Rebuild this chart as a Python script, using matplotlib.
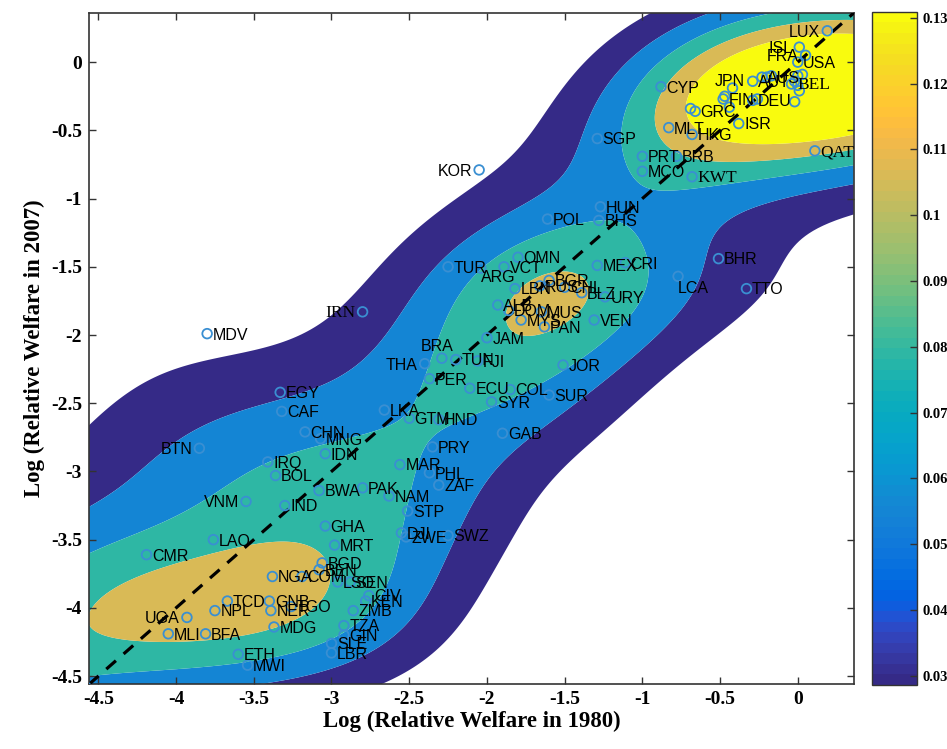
import numpy as np
import matplotlib
matplotlib.use('Agg')
import matplotlib.pyplot as plt
from matplotlib.colors import ListedColormap, Normalize
from matplotlib.cm import ScalarMappable

plt.rcParams['axes.unicode_minus'] = False

# ---------------- data ----------------
codes = ['LUX', 'ISL', 'USA', 'FRA', 'AUS', 'CAN', 'GBR', 'NOR', 'CHE', 'NLD', 'DNK', 'SWE', 'IRL',
         'BEL', 'AUT', 'JPN', 'ITA', 'FIN', 'DEU', 'ESP', 'NZL', 'GRC', 'SVN', 'ISR', 'MLT', 'HKG',
         'CYP', 'SGP', 'PRT', 'BRB', 'MCO', 'KWT', 'QAT', 'HUN', 'BHS', 'POL', 'KOR', 'IRN', 'MDV',
         'BHR', 'LCA', 'TTO', 'MEX', 'CRI', 'URY', 'BLZ', 'VEN', 'TUR', 'VCT', 'OMN', 'ARG', 'LBN',
         'BGR', 'RUS', 'CHL', 'ALB', 'DOM', 'MUS', 'MYS', 'PAN', 'JAM', 'BRA', 'THA', 'TUN', 'FJI',
         'PER', 'ECU', 'COL', 'SYR', 'SUR', 'JOR', 'GAB', 'LKA', 'GTM', 'HND', 'PRY', 'MAR', 'PHL',
         'ZAF', 'PAK', 'NAM', 'STP', 'DJI', 'ZWE', 'SWZ', 'EGY', 'CAF', 'CHN', 'MNG', 'IDN', 'BTN',
         'IRQ', 'BOL', 'BWA', 'VNM', 'IND', 'GHA', 'MRT', 'LAO', 'CMR', 'BGD', 'BEN', 'COM', 'NGA',
         'LSO', 'SEN', 'CIV', 'KEN', 'ZMB', 'TZA', 'GIN', 'SLE', 'LBR', 'MDG', 'ETH', 'MWI', 'TCD',
         'NPL', 'UGA', 'MLI', 'BFA', 'GNB', 'NER', 'TGO', 'ZAR']

x1980 = [0.19, 0.01, 0.00, 0.05, -0.23, -0.20, -0.17, 0.03, 0.00, -0.02, 0.00, 0.01, -0.02,
         -0.04, -0.29, -0.42, -0.47, -0.48, -0.29, -0.26, -0.44, -0.66, -0.69, -0.38, -0.83, -0.68,
         -0.88, -1.29, -1.00, -0.78, -1.00, -0.68, 0.11, -1.27, -1.28, -1.61, -2.05, -2.80, -3.80,
         -0.51, -0.77, -0.33, -1.29, -1.11, -1.24, -1.39, -1.31, -2.25, -1.89, -1.80, -2.04, -1.82,
         -1.60, -1.66, -1.50, -1.93, -1.86, -1.65, -1.78, -1.63, -2.00, -2.29, -2.40, -2.20, -2.06,
         -2.37, -2.11, -1.85, -1.97, -1.60, -1.51, -1.90, -2.66, -2.50, -2.31, -2.35, -2.56, -2.37,
         -2.31, -2.80, -2.63, -2.51, -2.55, -2.52, -2.25, -3.33, -3.32, -3.17, -3.07, -3.04, -3.85,
         -3.41, -3.36, -3.08, -3.55, -3.30, -3.04, -2.98, -3.76, -4.19, -3.06, -3.08, -3.19, -3.38,
         -2.96, -2.88, -2.76, -2.78, -2.86, -2.92, -2.92, -3.00, -3.00, -3.37, -3.60, -3.54, -3.67,
         -3.75, -3.93, -4.05, -3.81, -3.40, -3.39, -3.26, -4.58]

y2007 = [0.23, 0.11, 0.00, 0.05, -0.11, -0.11, -0.10, -0.09, -0.10, -0.14, -0.17, -0.21, -0.29,
         -0.16, -0.14, -0.19, -0.25, -0.27, -0.28, -0.27, -0.33, -0.36, -0.34, -0.45, -0.48, -0.53,
         -0.18, -0.56, -0.69, -0.69, -0.80, -0.84, -0.65, -1.06, -1.16, -1.15, -0.79, -1.83, -1.99,
         -1.44, -1.57, -1.66, -1.49, -1.47, -1.72, -1.69, -1.89, -1.50, -1.50, -1.43, -1.51, -1.66,
         -1.60, -1.64, -1.65, -1.78, -1.82, -1.83, -1.89, -1.94, -2.02, -2.17, -2.21, -2.18, -2.19,
         -2.32, -2.39, -2.40, -2.49, -2.44, -2.22, -2.72, -2.55, -2.61, -2.62, -2.82, -2.95, -3.01,
         -3.10, -3.12, -3.18, -3.29, -3.45, -3.48, -3.47, -2.42, -2.56, -2.71, -2.76, -2.87, -2.83,
         -2.93, -3.03, -3.14, -3.22, -3.25, -3.40, -3.54, -3.50, -3.61, -3.67, -3.72, -3.77, -3.77,
         -3.81, -3.81, -3.91, -3.95, -4.02, -4.13, -4.20, -4.26, -4.33, -4.14, -4.34, -4.42, -3.95,
         -4.02, -4.07, -4.19, -4.19, -3.95, -4.02, -3.99, -4.58]

cbar_ticks = [0.03, 0.04, 0.05, 0.06, 0.07, 0.08, 0.09, 0.10, 0.11, 0.12, 0.13]
axis_ticks = [-4.5, -4.0, -3.5, -3.0, -2.5, -2.0, -1.5, -1.0, -0.5, 0.0]
tick_text = ['-4.5', '-4', '-3.5', '-3', '-2.5', '-2', '-1.5', '-1', '-0.5', '0']

# ---------------- styling / layout ----------------
LEFT_LABELS = {'LUX', 'ISL', 'FRA', 'KOR', 'IRN', 'BTN', 'VNM', 'THA', 'UGA'}
HIDDEN_LABELS = {'CAN', 'GBR', 'NOR', 'CHE', 'NLD', 'DNK', 'SWE', 'IRL', 'ITA', 'ESP', 'NZL', 'SVN',
                 'ZAR'}
SERIF_LABELS = {'KWT', 'QAT', 'IRN', 'BEL'}
SPECIAL = {'LCA': (0.0, -0.09, 'left'), 'ARG': (0.0, -0.07, 'left'),
           'BRA': (-0.03, 0.085, 'center'), 'JPN': (-0.02, 0.05, 'center')}

LIM = (-4.56, 0.36)
parula_data = [
    [0.2081, 0.1663, 0.5292], [0.2116, 0.1898, 0.5777], [0.2123, 0.2138, 0.6270], [0.2081, 0.2386, 0.6771],
    [0.1959, 0.2645, 0.7279], [0.1707, 0.2919, 0.7792], [0.1253, 0.3242, 0.8303], [0.0591, 0.3598, 0.8683],
    [0.0117, 0.3875, 0.8820], [0.0060, 0.4086, 0.8828], [0.0165, 0.4266, 0.8786], [0.0329, 0.4430, 0.8720],
    [0.0498, 0.4586, 0.8641], [0.0629, 0.4737, 0.8554], [0.0723, 0.4887, 0.8467], [0.0779, 0.5040, 0.8384],
    [0.0793, 0.5200, 0.8312], [0.0749, 0.5375, 0.8263], [0.0641, 0.5570, 0.8240], [0.0488, 0.5772, 0.8228],
    [0.0343, 0.5966, 0.8199], [0.0265, 0.6137, 0.8135], [0.0239, 0.6287, 0.8038], [0.0231, 0.6418, 0.7913],
    [0.0228, 0.6535, 0.7768], [0.0267, 0.6642, 0.7607], [0.0384, 0.6743, 0.7436], [0.0590, 0.6838, 0.7254],
    [0.0843, 0.6928, 0.7062], [0.1133, 0.7015, 0.6859], [0.1453, 0.7098, 0.6646], [0.1801, 0.7177, 0.6424],
    [0.2178, 0.7250, 0.6193], [0.2586, 0.7317, 0.5954], [0.3022, 0.7376, 0.5712], [0.3482, 0.7424, 0.5473],
    [0.3953, 0.7459, 0.5244], [0.4420, 0.7481, 0.5033], [0.4871, 0.7491, 0.4840], [0.5300, 0.7491, 0.4661],
    [0.5709, 0.7485, 0.4494], [0.6099, 0.7473, 0.4337], [0.6473, 0.7456, 0.4188], [0.6834, 0.7435, 0.4044],
    [0.7184, 0.7411, 0.3905], [0.7525, 0.7384, 0.3768], [0.7858, 0.7356, 0.3633], [0.8185, 0.7327, 0.3498],
    [0.8507, 0.7299, 0.3360], [0.8824, 0.7274, 0.3217], [0.9139, 0.7258, 0.3063], [0.9450, 0.7261, 0.2886],
    [0.9739, 0.7314, 0.2666], [0.9938, 0.7455, 0.2403], [0.9990, 0.7653, 0.2164], [0.9955, 0.7861, 0.1967],
    [0.9880, 0.8066, 0.1794], [0.9789, 0.8271, 0.1633], [0.9697, 0.8481, 0.1475], [0.9626, 0.8705, 0.1309],
    [0.9589, 0.8949, 0.1132], [0.9598, 0.9218, 0.0948], [0.9661, 0.9514, 0.0755], [0.9763, 0.9831, 0.0538]]
parula = ListedColormap(parula_data, name='parula')

# ---------------- stochastic kernel: joint KDE / marginal KDE ----------------
X = np.asarray(x1980)
Y = np.asarray(y2007)
hx_joint, hx_marg, hy, mass = 0.55, 0.65, 0.40, 0.222
gx = np.linspace(LIM[0], LIM[1], 260)
gy = np.linspace(LIM[0], LIM[1], 260)


def gauss(u, h):
    return np.exp(-0.5 * (u / h) ** 2) / (np.sqrt(2 * np.pi) * h)


Kx = gauss(gx[:, None] - X[None, :], hx_joint)
Mx = gauss(gx[:, None] - X[None, :], hx_marg).sum(axis=1)
Ky = gauss(gy[:, None] - Y[None, :], hy)
Z = (Ky @ Kx.T) / Mx[None, :] * mass

lo, hi = 0.0286, 0.1309
levels = list(np.linspace(lo, hi, 5))
norm = Normalize(lo, hi)
fill_colors = [parula(norm(v)) for v in levels]
levels_fill = levels + [max(Z.max(), hi) + 1.0]

# ---------------- figure ----------------
fig = plt.figure(figsize=(9.47, 7.49), dpi=100)
ax = fig.add_axes([0.094, 0.0864, 0.8075, 0.8962])
ax.contourf(gx, gy, Z, levels=levels_fill, colors=fill_colors, antialiased=True)

ax.plot(LIM, LIM, color='black', lw=2.3, linestyle=(0, (4, 3.2)), zorder=3)
ax.scatter(X, Y, s=48, facecolors='none', edgecolors='#3a8fd2', linewidths=1.3, zorder=4)

dx = 0.035
for c, xv, yv in zip(codes, x1980, y2007):
    if c in HIDDEN_LABELS:
        continue
    fam = ['Liberation Serif'] if c in SERIF_LABELS else ['Liberation Sans']
    fs = 12.5 if c in SERIF_LABELS else 11.5
    if c in SPECIAL:
        ox, oy, ha = SPECIAL[c]
        ax.text(xv + ox, yv + oy, c, ha=ha, va='center', fontsize=fs, family=fam, zorder=5)
    elif c in LEFT_LABELS:
        ax.text(xv - dx - 0.01, yv - 0.01, c, ha='right', va='center', fontsize=fs, family=fam, zorder=5)
    else:
        ax.text(xv + dx, yv - 0.01, c, ha='left', va='center', fontsize=fs, family=fam, zorder=5)

ax.set_xlim(LIM)
ax.set_ylim(LIM)
ax.set_xticks(axis_ticks)
ax.set_xticklabels(tick_text)
ax.set_yticks(axis_ticks)
ax.set_yticklabels(tick_text)
ax.tick_params(direction='in', length=5, width=1, top=True, right=True, labelsize=14, pad=5,
               color='#333333')
for lab in ax.get_xticklabels() + ax.get_yticklabels():
    lab.set_family('Liberation Serif')
    lab.set_fontweight('bold')
for sp in ax.spines.values():
    sp.set_linewidth(1.2)
    sp.set_color('#333333')

ax.set_xlabel('Log (Relative Welfare in 1980)', family='Liberation Serif', fontweight='bold',
              fontsize=16.5, labelpad=2)
ax.set_ylabel('Log (Relative Welfare in 2007)', family='Liberation Serif', fontweight='bold',
              fontsize=16.5, labelpad=4)

cax = fig.add_axes([0.921, 0.0855, 0.047, 0.8985])
cb = fig.colorbar(ScalarMappable(norm=norm, cmap=parula), cax=cax)
cb.set_ticks(cbar_ticks)
cb.set_ticklabels(['%g' % t for t in cbar_ticks])
cax.tick_params(direction='in', length=5, width=1, labelsize=10.5, pad=4, color='#333333')
for lab in cax.get_yticklabels():
    lab.set_family('Liberation Serif')
    lab.set_fontweight('bold')
cb.outline.set_linewidth(1.0)
cb.outline.set_edgecolor('#333333')

fig.savefig('out.png', dpi=100)
